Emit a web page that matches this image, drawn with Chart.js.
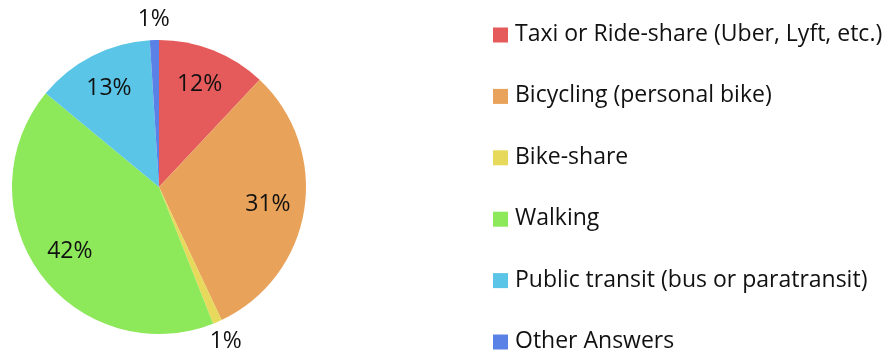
<!DOCTYPE html>
<html>
<head>
<meta charset="utf-8">
<script src="https://cdn.jsdelivr.net/npm/chart.js@4/dist/chart.umd.min.js"></script>
<style>
  html, body { margin: 0; padding: 0; background: #fff; }
  #wrap { width: 895px; height: 362px; position: relative; }
</style>
</head>
<body>
<div id="wrap"><canvas id="modeChart"></canvas></div>
<script>
// Travel mode shares (percent)
const modes = [
  'Taxi or Ride-share (Uber, Lyft, etc.)',
  'Bicycling (personal bike)',
  'Bike-share',
  'Walking',
  'Public transit (bus or paratransit)',
  'Other Answers'
];
const shares = [12, 31, 1, 42, 13, 1];
const sliceColors = ['#e55a5a', '#e8a25a', '#e6d95b', '#8de85a', '#5ac5e6', '#5a82e6'];

const FONT = "'Open Sans', 'Noto Sans', sans-serif";

// Percent labels: inside for big slices, just outside the rim for tiny ones
const pctLabels = {
  id: 'pctLabels',
  afterDatasetsDraw(chart) {
    const ctx = chart.ctx;
    const meta = chart.getDatasetMeta(0);
    ctx.save();
    ctx.font = '23px ' + FONT;
    ctx.fillStyle = '#111';
    ctx.textAlign = 'center';
    ctx.textBaseline = 'middle';
    meta.data.forEach((arc, i) => {
      const v = chart.data.datasets[0].data[i];
      const mid = (arc.startAngle + arc.endAngle) / 2;
      const r = v < 3 ? arc.outerRadius + 21 : arc.outerRadius * 0.75;
      ctx.fillText(v + '%', arc.x + Math.cos(mid) * r, arc.y + Math.sin(mid) * r);
    });
    ctx.restore();
  }
};

// Legend column on the right
const sideLegend = {
  id: 'sideLegend',
  afterDraw(chart, args, opts) {
    const ctx = chart.ctx;
    const ds = chart.data.datasets[0];
    ctx.save();
    ctx.font = '23px ' + FONT;
    ctx.textBaseline = 'middle';
    ctx.textAlign = 'left';
    chart.data.labels.forEach((label, i) => {
      const cy = opts.top + i * opts.step;
      ctx.fillStyle = ds.backgroundColor[i];
      ctx.fillRect(opts.x, cy - 7, 15, 15);
      ctx.fillStyle = '#111';
      ctx.fillText(label, opts.x + 22, cy);
    });
    ctx.restore();
  }
};

new Chart(document.getElementById('modeChart'), {
  type: 'pie',
  data: {
    labels: modes,
    datasets: [{
      data: shares,
      backgroundColor: sliceColors,
      borderWidth: 0,
      hoverOffset: 0
    }]
  },
  options: {
    responsive: true,
    maintainAspectRatio: false,
    animation: false,
    layout: { padding: { left: 12, top: 40, bottom: 28, right: 589 } },
    plugins: {
      legend: { display: false },
      tooltip: { enabled: false },
      sideLegend: { x: 493, top: 34.5, step: 61.4 }
    }
  },
  plugins: [pctLabels, sideLegend]
});
</script>
</body>
</html>
